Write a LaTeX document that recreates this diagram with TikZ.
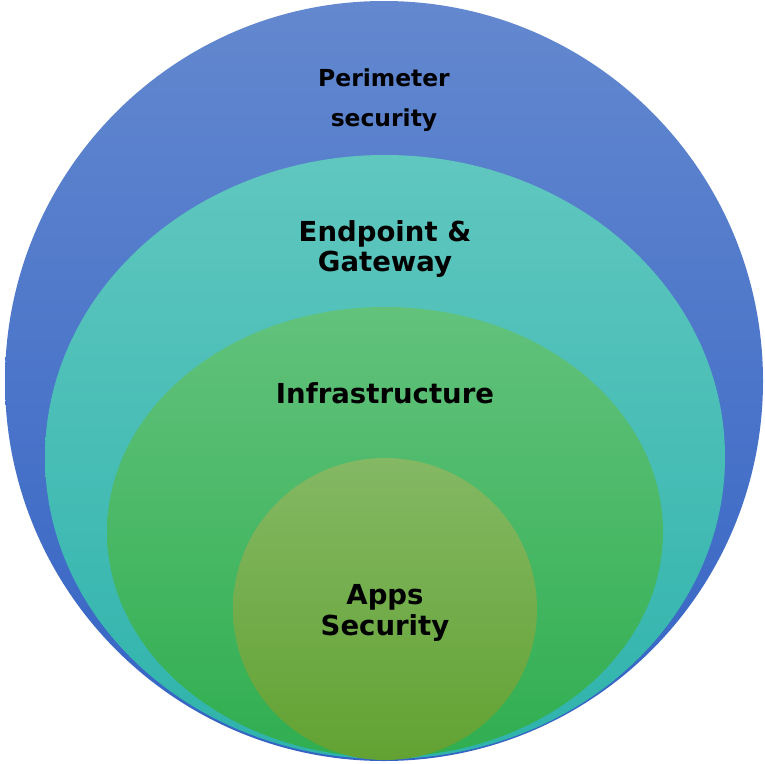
\documentclass[tikz,border=0pt]{standalone}
\usepackage{fontspec}
\setmainfont{DejaVu Sans}
\usepackage{tikz}
\definecolor{perimtop}{HTML}{6388CF}
\definecolor{perimbot}{HTML}{3463C4}
\definecolor{endtop}{HTML}{60C7BF}
\definecolor{endbot}{HTML}{2EB3AC}
\definecolor{infratop}{HTML}{62C27C}
\definecolor{infrabot}{HTML}{30AE50}
\definecolor{apptop}{HTML}{84B864}
\definecolor{appbot}{HTML}{62A232}
\tikzstyle{every node}=[align=center]
\tikzstyle{layer}=[draw=none]
\tikzstyle{biglabel}=[font=\bfseries\fontsize{23.5}{26}\selectfont]
\tikzstyle{smalllabel}=[font=\bfseries\fontsize{20}{34}\selectfont]

\begin{document}
\begin{tikzpicture}[x=0.03cm,y=-0.03cm]
\useasboundingbox (0,0) rectangle (765,763);
\shade[layer,top color=perimtop,bottom color=perimbot] (384,381) ellipse [x radius=379,y radius=380];
\shade[layer,top color=endtop,bottom color=endbot] (385,457) ellipse [x radius=340,y radius=302];
\shade[layer,top color=infratop,bottom color=infrabot] (385,532) ellipse [x radius=278,y radius=225];
\shade[layer,top color=apptop,bottom color=appbot] (385,609) ellipse [x radius=152,y radius=151];
\node[smalllabel] (perim) at (384,100) {Perimeter\\security};
\node[biglabel] (endp) at (385,249) {Endpoint \&\\Gateway};
\node[biglabel] (infra) at (385,393) {Infrastructure};
\node[biglabel] (apps) at (385,613) {Apps\\Security};
\end{tikzpicture}
\end{document}
